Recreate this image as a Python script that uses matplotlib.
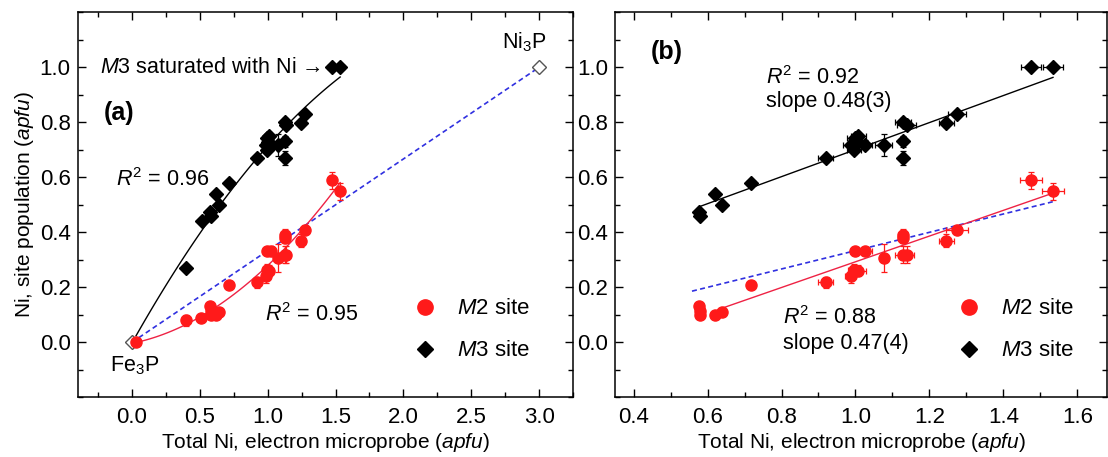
import numpy as np
import matplotlib
matplotlib.use("Agg")
from matplotlib import pyplot as plt
from matplotlib.lines import Line2D
from matplotlib.ticker import MultipleLocator

plt.rcParams['font.family'] = ['Liberation Sans', 'DejaVu Sans']
plt.rcParams['font.size'] = 15
plt.rcParams['mathtext.fontset'] = 'custom'
plt.rcParams['mathtext.rm'] = 'Liberation Sans'
plt.rcParams['mathtext.it'] = 'Liberation Sans:italic'
plt.rcParams['mathtext.bf'] = 'Liberation Sans:bold'

# samples shown in both panels
m3_x = np.array([0.578, 0.580, 0.621, 0.639, 0.718, 0.919, 0.987, 0.996, 0.998, 1.008, 1.003,
                 1.026, 1.076, 1.128, 1.138, 1.128, 1.128, 1.246, 1.275, 1.475, 1.534])
m3_y = np.array([0.474, 0.458, 0.539, 0.499, 0.579, 0.669, 0.719, 0.700, 0.743, 0.749, 0.730,
                 0.719, 0.719, 0.801, 0.789, 0.731, 0.670, 0.798, 0.830, 1.000, 1.000])
m3_xerr = np.array([0.005, 0.005, 0.008, 0.008, 0.010, 0.020, 0.020, 0.020, 0.020, 0.020, 0.020,
                    0.020, 0.022, 0.022, 0.025, 0.008, 0.008, 0.020, 0.025, 0.027, 0.027])
m3_yerr = np.array([0.010, 0.010, 0.012, 0.012, 0.012, 0.012, 0.015, 0.015, 0.015, 0.015, 0.015,
                    0.015, 0.040, 0.015, 0.015, 0.020, 0.025, 0.015, 0.012, 0.005, 0.005])
# the two saturated M3 points are left out of the linear fit
m3_saturated = m3_y >= 0.999

m2_x = np.array([0.578, 0.579, 0.580, 0.621, 0.639, 0.718, 0.919, 0.987, 0.996, 1.008, 0.998,
                 1.026, 1.076, 1.128, 1.128, 1.128, 1.138, 1.246, 1.275, 1.475, 1.534])
m2_y = np.array([0.131, 0.115, 0.100, 0.100, 0.110, 0.210, 0.218, 0.240, 0.264, 0.260, 0.331,
                 0.331, 0.307, 0.392, 0.380, 0.319, 0.319, 0.370, 0.410, 0.589, 0.549])
m2_xerr = np.array([0.005, 0.005, 0.005, 0.006, 0.006, 0.006, 0.020, 0.015, 0.015, 0.020, 0.012,
                    0.020, 0.008, 0.012, 0.012, 0.020, 0.020, 0.020, 0.030, 0.030, 0.030])
m2_yerr = np.array([0.010, 0.010, 0.010, 0.010, 0.010, 0.010, 0.020, 0.025, 0.020, 0.020, 0.015,
                    0.015, 0.050, 0.020, 0.020, 0.030, 0.030, 0.025, 0.015, 0.030, 0.030])

# extra low-Ni samples only in panel (a)
m3_x_extra = np.array([0.03, 0.40, 0.515])
m3_y_extra = np.array([0.0, 0.27, 0.44])
m2_x_extra = np.array([0.03, 0.40, 0.51])
m2_y_extra = np.array([0.0, 0.08, 0.09])

# end members
end_x = [0.0, 3.0]
end_y = [0.0, 1.0]
end_names = ["Fe$_3$P", "Ni$_3$P"]

red = "#ff1a1a"
red_line = "#ee2244"
blue = "#3030e0"

fig = plt.figure(figsize=(11.08, 4.57), dpi=100)
ax1 = fig.add_axes([0.0701, 0.1306, 0.4471, 0.8425])
ax2 = fig.add_axes([0.5551, 0.1306, 0.4440, 0.8425])


def style(ax):
    ax.tick_params(which='both', direction='in', top=True, right=True, width=1.0,
                   labelsize=16)
    ax.tick_params(which='major', length=6)
    ax.tick_params(which='minor', length=3.5)
    ax.tick_params(axis='x', pad=7)
    ax.tick_params(axis='y', pad=5)
    for s in ax.spines.values():
        s.set_linewidth(1.1)
    ax.set_ylim(-0.2, 1.2)
    ax.set_yticks([0.0, 0.2, 0.4, 0.6, 0.8, 1.0])
    ax.yaxis.set_minor_locator(MultipleLocator(0.1))
    ax.set_xlabel("Total Ni, electron microprobe ($\\mathit{apfu}$)", fontsize=15, labelpad=2)


def points(ax, x2, y2, x2e, y2e, x3, y3, x3e, y3e):
    ax.errorbar(x2, y2, xerr=x2e, yerr=y2e, fmt='o', color=red, ms=8, mec=red,
                elinewidth=0.9, capsize=2.5, capthick=0.9, zorder=4)
    ax.errorbar(x3, y3, xerr=x3e, yerr=y3e, fmt='D', color='black', ms=7,
                elinewidth=0.9, capsize=2.5, capthick=0.9, zorder=4)


def legend(ax, x0):
    h = [Line2D([], [], ls='none', marker='o', color=red, ms=11),
         Line2D([], [], ls='none', marker='D', color='black', ms=8)]
    ax.legend(h, ["$\\mathit{M}$2 site", "$\\mathit{M}$3 site"], frameon=False,
              loc='center left', bbox_to_anchor=(x0, 0.175), borderpad=0,
              handlelength=1.0, handletextpad=0.95, labelspacing=0.95, fontsize=16)


# ---- panel (a)
style(ax1)
ax1.set_xlim(-0.4, 3.25)
ax1.xaxis.set_major_locator(MultipleLocator(0.5))
ax1.xaxis.set_minor_locator(MultipleLocator(0.25))
ax1.set_ylabel("Ni, site population ($\\mathit{apfu}$)", fontsize=15, labelpad=3)

ax1.plot(end_x, end_y, ls=(0, (3, 2)), color=blue, lw=1.2, zorder=2)
ax1.plot(end_x, end_y, ls='none', marker='D', ms=7, mfc='white', mec='#555555',
         mew=1.0, zorder=3)

a3x = np.concatenate([m3_x_extra, m3_x])
a3y = np.concatenate([m3_y_extra, m3_y])
a2x = np.concatenate([m2_x_extra, m2_x])
a2y = np.concatenate([m2_y_extra, m2_y])
fit3a = np.poly1d(np.polyfit(a3x, a3y, 2))
fit2a = np.poly1d(np.polyfit(a2x, a2y, 2))
xs = np.linspace(a3x.min(), a3x.max(), 100)
ax1.plot(xs, fit3a(xs), color='black', lw=1.0, zorder=3)
xs = np.linspace(a2x.min(), a2x.max(), 100)
ax1.plot(xs, fit2a(xs), color=red_line, lw=1.0, zorder=3)

points(ax1, a2x, a2y, np.concatenate([[0, 0.005, 0.005], m2_xerr]),
       np.concatenate([[0, 0.02, 0.01], m2_yerr]),
       a3x[1:], a3y[1:], np.concatenate([[0.005, 0.005], m3_xerr]),
       np.concatenate([[0.01, 0.01], m3_yerr]))

ax1.text(-0.235, 1.0, "$\\mathit{M}$3 saturated with Ni \u2192", ha='left', va='center', fontsize=15.5)
ax1.text(-0.21, 0.835, "(a)", ha='left', va='center', fontsize=18, fontweight='bold')
ax1.text(-0.12, 0.592, "$\\mathit{R}^2$ = 0.96", ha='left', va='center', fontsize=15.5)
ax1.text(0.98, 0.10, "$\\mathit{R}^2$ = 0.95", ha='left', va='center', fontsize=15.5)
ax1.text(0.02, -0.085, end_names[0], ha='center', va='center', fontsize=15.5)
ax1.text(2.89, 1.09, end_names[1], ha='center', va='center', fontsize=15.5)
legend(ax1, 0.656)

# ---- panel (b)
style(ax2)
ax2.set_xlim(0.35, 1.68)
ax2.xaxis.set_major_locator(MultipleLocator(0.2))
ax2.xaxis.set_minor_locator(MultipleLocator(0.1))

xb = np.linspace(0.558, m2_x.max(), 50)
ax2.plot(xb, xb / 3.0, ls=(0, (3, 2)), color=blue, lw=1.2, zorder=2)

fit3b = np.poly1d(np.polyfit(m3_x[~m3_saturated], m3_y[~m3_saturated], 1))
fit2b = np.poly1d(np.polyfit(m2_x, m2_y, 1))
xs = np.linspace(m3_x.min(), m3_x.max(), 50)
ax2.plot(xs, fit3b(xs), color='black', lw=1.0, zorder=3)
xs = np.linspace(0.64, m2_x.max(), 50)
ax2.plot(xs, fit2b(xs), color=red_line, lw=1.0, zorder=3)

points(ax2, m2_x, m2_y, m2_xerr, m2_yerr, m3_x, m3_y, m3_xerr, m3_yerr)

ax2.text(0.447, 1.056, "(b)", ha='left', va='center', fontsize=18, fontweight='bold')
ax2.text(0.758, 0.961, "$\\mathit{R}^2$ = 0.92", ha='left', va='center', fontsize=15.5)
ax2.text(0.758, 0.874, "slope 0.48(3)", ha='left', va='center', fontsize=15.5)
ax2.text(0.805, 0.089, "$\\mathit{R}^2$ = 0.88", ha='left', va='center', fontsize=15.5)
ax2.text(0.805, -0.003, "slope 0.47(4)", ha='left', va='center', fontsize=15.5)
legend(ax2, 0.674)

fig.savefig("out.png", dpi=100)
